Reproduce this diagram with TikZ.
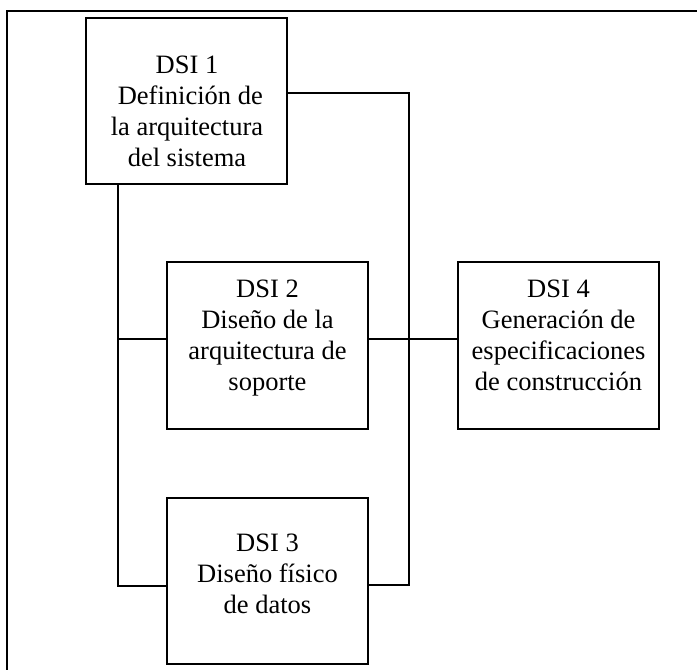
\documentclass[tikz,border=0pt]{standalone}
\usepackage{fontspec}
\setmainfont{Liberation Serif}
\begin{document}
\begin{tikzpicture}[x=1pt,y=-1pt,
  box/.style={draw,line width=1.3pt,inner sep=0pt,minimum width=201pt},
  lbl/.style={align=center,inner sep=0pt,anchor=north,font=\fontsize{26.5}{31}\selectfont},
  conn/.style={line width=1.3pt}]
\useasboundingbox (0,0) rectangle (697,670);
% frame
\draw[conn] (7,670) -- (7,11) -- (697,11);
% boxes
\node[box,minimum height=166pt] (d1) at (186.5,101) {};
\node[box,minimum height=167pt] (d2) at (267.5,345.5) {};
\node[box,minimum height=167pt] (d4) at (558.5,345.5) {};
\node[box,minimum height=166pt] (d3) at (267.5,581) {};
% texts
\node[lbl] (t1) at (187,56) {DSI 1\\ \ Definición de\\la arquitectura\\del sistema};
\node[lbl] (t2) at (267.5,280) {DSI 2\\Diseño de la\\ arquitectura de\\soporte};
\node[lbl] (t4) at (558.5,280) {DSI 4\\Generación de\\especificaciones\\de construcción};
\node[lbl] (t3) at (267.5,534) {DSI 3\\Diseño físico\\de datos};
% connectors
\coordinate (j1) at (409,93);
\coordinate (j2) at (409,585);
\coordinate (k1) at (118,339);
\coordinate (k2) at (118,586);
\draw[conn] (d1.east |- j1) -- (j1) -- (j2) -- (d3.east |- j2);
\draw[conn] (d1.south -| k1) -- (k2) -- (d3.west |- k2);
\draw[conn] (k1) -- (d2.west |- k1);
\draw[conn] (d2.east |- k1) -- (d4.west |- k1);
\end{tikzpicture}
\end{document}
